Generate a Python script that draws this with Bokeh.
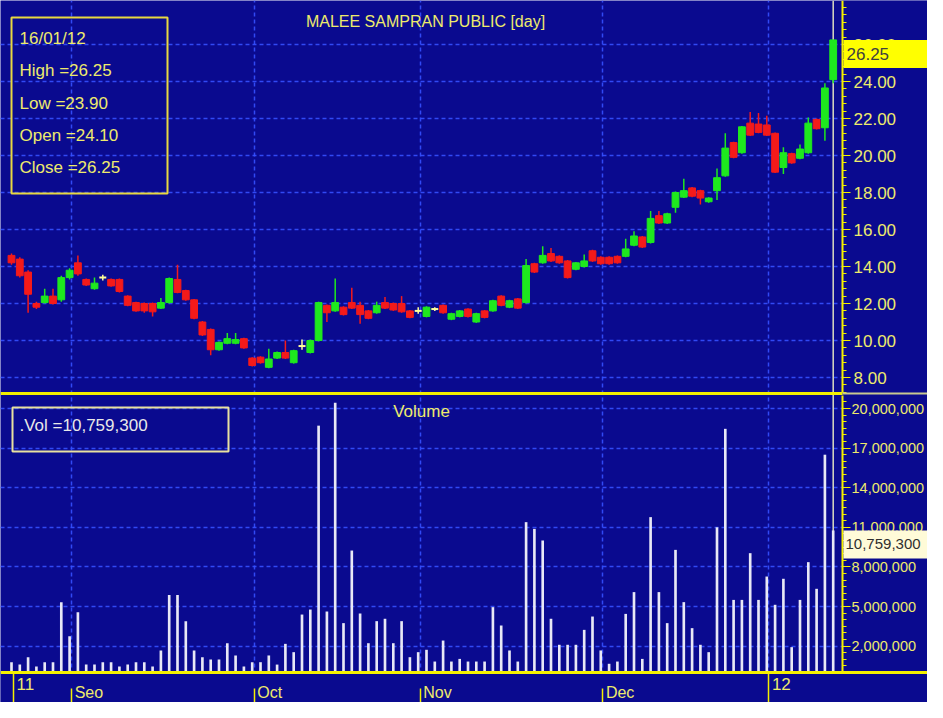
import numpy as np
from bokeh.plotting import figure
from bokeh.models import (LinearAxis, FixedTicker, Grid, Label, BoxAnnotation, Span,
                          NumeralTickFormatter, PrintfTickFormatter, Range1d, ColumnDataSource)
from bokeh.embed import file_html
from bokeh.resources import INLINE

# ---------------- data ----------------
stock_title = "MALEE SAMPRAN PUBLIC [day]"
last_date = "16/01/12"

opens = [14.6, 14.4, 13.7, 12.0, 12.05, 12.4, 12.2, 13.4, 14.2, 13.3,
         12.8, 13.4, 13.3, 13.3, 12.4, 12.05, 12.0, 12.0, 11.75, 12.05,
         13.3, 12.7, 12.2, 11.0, 10.6, 9.5, 9.85, 9.85, 10.1, 9.05,
         9.1, 8.55, 9.05, 9.35, 8.8, 9.7, 9.35, 10.0, 11.9, 11.6,
         11.8, 12.05, 11.9, 11.6, 11.5, 12.05, 12.0, 12.0, 11.6, 11.6,
         11.3, 11.7, 11.9, 11.15, 11.3, 11.7, 11.0, 11.6, 11.6, 12.4,
         11.8, 12.25, 12.05, 14.15, 14.2, 14.7, 14.55, 14.3, 13.85, 14.0,
         14.85, 14.5, 14.5, 14.55, 14.55, 15.15, 15.6, 15.3, 16.75, 16.35,
         17.2, 17.75, 18.25, 18.1, 17.5, 18.1, 18.9, 20.7, 20.15, 21.75,
         21.7, 21.65, 21.2, 19.35, 20.1, 19.85, 20.15, 21.95, 21.5, 24.10]
closes = [14.2, 13.5, 12.5, 11.8, 12.4, 12.0, 13.4, 13.8, 13.6, 13.0,
          13.1, 13.4, 12.95, 12.65, 11.9, 11.6, 11.6, 11.55, 12.05, 13.35,
          12.6, 12.2, 11.2, 10.3, 9.5, 9.9, 10.1, 10.05, 9.6, 8.65,
          8.8, 9.0, 9.35, 9.05, 9.45, 9.7, 10.0, 12.05, 11.5, 12.05,
          11.4, 11.75, 11.4, 11.2, 11.9, 11.75, 11.65, 11.55, 11.25, 11.6,
          11.8, 11.7, 11.5, 11.45, 11.6, 11.3, 11.45, 11.25, 12.15, 11.9,
          12.15, 11.75, 14.05, 13.7, 14.6, 14.3, 14.2, 13.4, 14.2, 14.3,
          14.3, 14.15, 14.15, 14.2, 14.95, 15.65, 15.05, 16.6, 16.35, 16.85,
          18.0, 18.1, 17.8, 17.7, 17.7, 18.8, 20.4, 19.9, 21.55, 21.1,
          21.25, 21.1, 19.1, 20.15, 19.6, 20.35, 21.75, 21.45, 23.65, 26.25]
highs = [14.7, 14.5, 13.8, 12.1, 12.8, 12.8, 13.5, 13.9, 14.6, 13.35,
         13.4, 13.55, 13.35, 13.35, 12.45, 12.1, 12.05, 12.05, 12.3, 13.4,
         14.1, 12.75, 12.25, 11.05, 10.65, 9.95, 10.4, 10.4, 10.15, 9.1,
         9.15, 9.55, 9.4, 10.0, 9.5, 10.05, 10.05, 12.1, 11.95, 13.35,
         11.85, 12.85, 12.1, 11.65, 12.1, 12.35, 12.05, 12.4, 11.65, 11.8,
         11.85, 11.8, 11.95, 11.5, 11.65, 11.75, 11.5, 11.65, 12.2, 12.45,
         12.2, 12.3, 14.4, 14.2, 15.1, 15.0, 14.6, 14.35, 14.25, 14.65,
         14.9, 14.55, 14.55, 14.6, 15.5, 15.9, 15.65, 17.0, 17.0, 16.9,
         18.05, 18.75, 18.3, 18.15, 17.75, 19.3, 21.2, 20.75, 21.6, 22.35,
         22.3, 22.15, 21.25, 20.45, 20.15, 20.6, 22.05, 22.0, 23.9, 26.25]
lows = [14.1, 13.4, 11.5, 11.7, 12.0, 11.95, 12.1, 13.3, 13.5, 12.95,
        12.75, 13.25, 12.9, 12.6, 11.85, 11.55, 11.5, 11.3, 11.7, 12.0,
        12.55, 12.15, 11.15, 10.25, 9.2, 9.45, 9.8, 9.8, 9.55, 8.6,
        8.75, 8.5, 9.0, 9.0, 8.75, 9.5, 9.3, 9.95, 11.0, 11.55,
        11.35, 11.7, 10.9, 11.15, 11.45, 11.7, 11.6, 11.5, 11.2, 11.45,
        11.25, 11.6, 11.45, 11.1, 11.25, 11.25, 10.95, 11.2, 11.55, 11.85,
        11.75, 11.7, 12.0, 13.65, 14.15, 14.25, 14.15, 13.35, 13.8, 13.95,
        14.25, 14.1, 14.1, 14.15, 14.5, 15.1, 15.0, 15.25, 16.3, 16.3,
        16.9, 17.7, 17.75, 17.35, 17.45, 17.6, 18.85, 19.85, 20.1, 21.05,
        21.2, 21.05, 19.05, 19.0, 19.55, 19.8, 20.1, 21.4, 20.8, 23.90]
volumes = [780000, 600000, 1160000, 450000, 780000, 780000, 5330000, 2750000, 4570000, 600000,
           600000, 780000, 780000, 450000, 600000, 780000, 780000, 450000, 1670000, 5880000,
           5880000, 3890000, 1670000, 1160000, 980000, 980000, 2220000, 1290000, 450000, 780000,
           780000, 1290000, 600000, 2170000, 1540000, 4390000, 4770000, 18700000, 4620000, 20430000,
           3740000, 9240000, 4470000, 2220000, 3890000, 4070000, 2220000, 3890000, 1160000, 1540000,
           1720000, 830000, 2420000, 830000, 1030000, 830000, 830000, 830000, 4950000, 3560000,
           1670000, 830000, 11390000, 10880000, 10000000, 4070000, 2100000, 2100000, 2100000, 3230000,
           4240000, 1670000, 660000, 830000, 4440000, 6090000, 1030000, 11770000, 6090000, 3740000,
           9290000, 5330000, 3360000, 2100000, 1540000, 11000000, 18460000, 5500000, 5500000, 9040000,
           5500000, 7270000, 5130000, 7100000, 1920000, 5500000, 8360000, 6340000, 16500000, 10759300]

month_labels = ["Seo", "Oct", "Nov", "Dec"]
month_start = [7, 29, 49, 71]
year_labels = ["11", "12"]
year_start = [0, 91]
price_ticks = [8, 10, 12, 14, 16, 18, 20, 22, 24, 26]
volume_ticks = [2000000, 5000000, 8000000, 11000000, 14000000, 17000000, 20000000]

# ---------------- style / geometry ----------------
BG = "#0a0a8f"
YEL = "#f4f000"
LBL = "#eeea6c"
GRID = "#3550ff"
GREEN = "#1ee81e"
RED = "#f41a1a"
DOJI = "#ffff9a"
VOLC = "#e8e8f6"
FONT = "Liberation Sans"
FS = "17px"

W, H = 927, 702
PX_PER_BAR = 8.3
X_LO = -11 / PX_PER_BAR
X_HI = X_LO + W / PX_PER_BAR
X_AXIS = (842 - 11) / PX_PER_BAR          # x of the right axis line
PX_PER_PRICE = 18.5
P_HI = 8 + 377 / PX_PER_PRICE
P_LO = P_HI - H / PX_PER_PRICE
P_AXIS_LO = 8 - (392 - 377) / PX_PER_PRICE
PX_PER_VOL = 13.2e-6
V_HI = 672 / PX_PER_VOL
V_LO = V_HI - H / PX_PER_VOL
V_AXIS_HI = (672 - 395) / PX_PER_VOL
TICK_SHIFT = 0.25

n = len(closes)
xs = list(range(n))
colors = [GREEN if c > o else (RED if c < o else DOJI) for o, c in zip(opens, closes)]
body_i = [i for i in xs if opens[i] != closes[i]]
doji_i = [i for i in xs if opens[i] == closes[i]]

src_all = ColumnDataSource(dict(x=xs, high=highs, low=lows, color=colors, vol=volumes))
src_body = ColumnDataSource(dict(
    x=body_i,
    top=[max(opens[i], closes[i]) for i in body_i],
    bottom=[min(opens[i], closes[i]) for i in body_i],
    color=[colors[i] for i in body_i]))
src_doji = ColumnDataSource(dict(
    x0=[i - 0.42 for i in doji_i], x1=[i + 0.42 for i in doji_i],
    y=[closes[i] for i in doji_i]))

month_pos = [m + TICK_SHIFT for m in month_start]
year_pos = [y + TICK_SHIFT for y in year_start]
grid_pos = month_pos + [year_pos[1]]

p = figure(width=W, height=H, x_range=Range1d(X_LO, X_HI), y_range=Range1d(P_LO, P_HI),
           x_axis_location=None, y_axis_location=None,
           toolbar_location=None, output_backend="svg", min_border=0,
           background_fill_color=BG, border_fill_color=BG, outline_line_color=None)
p.extra_y_ranges = {"vol": Range1d(V_LO, V_HI)}
p.xgrid.visible = False
p.ygrid.visible = False


def txt(text, x, y, color=LBL, align="left", baseline="middle", x_units="screen",
        y_units="screen", size=FS, **kw):
    lab = Label(x=x, y=y, x_units=x_units, y_units=y_units, text=text,
                text_color=color, text_font=FONT, text_font_size=size,
                text_align=align, text_baseline=baseline, **kw)
    p.add_layout(lab)
    return lab


def right_axis(ticker, fmt, bounds, size, standoff, **kw):
    ax = LinearAxis(fixed_location=X_AXIS, bounds=bounds, ticker=ticker, formatter=fmt,
                    axis_line_color=YEL, axis_line_width=2,
                    major_tick_line_color=YEL, major_tick_out=8, major_tick_in=0,
                    minor_tick_line_color=YEL, minor_tick_out=4, minor_tick_in=0,
                    major_label_text_color=LBL, major_label_text_font=FONT,
                    major_label_text_font_size=size, major_label_standoff=standoff, **kw)
    p.add_layout(ax, "right")
    return ax


# ---------------- grids ----------------
grid_kw = dict(grid_line_color=GRID, grid_line_dash="4 3", grid_line_width=1.5, grid_line_alpha=0.9)
p.add_layout(Grid(dimension=1, ticker=FixedTicker(ticks=price_ticks), **grid_kw))
p.add_layout(Grid(dimension=1, y_range_name="vol", ticker=FixedTicker(ticks=volume_ticks), **grid_kw))
p.add_layout(Grid(dimension=0, ticker=FixedTicker(ticks=grid_pos), **grid_kw))

# cursor line at the last bar
p.add_layout(Span(location=xs[-1], dimension="height", line_color="#dcdcc0", line_width=1.5,
                  level="underlay"))

# cover the axis areas (right and bottom) over the grid lines
p.add_layout(BoxAnnotation(left=X_AXIS, right=X_HI, bottom=P_LO, top=P_HI, fill_color=BG,
                           fill_alpha=1, line_color=None, level="underlay"))
p.add_layout(BoxAnnotation(left=X_LO, right=X_HI, bottom=V_LO, top=0, y_range_name="vol",
                           fill_color=BG, fill_alpha=1, line_color=None, level="underlay"))

# ---------------- candles ----------------
p.segment(x0="x", y0="low", x1="x", y1="high", line_color="color", line_width=1.5, source=src_all)
p.vbar(x="x", top="top", bottom="bottom", width=0.82, fill_color="color", line_color="color",
       source=src_body)
p.segment(x0="x0", y0="y", x1="x1", y1="y", line_color=DOJI, line_width=2, source=src_doji)

# ---------------- volume ----------------
p.vbar(x="x", top="vol", bottom=0, width=0.32, fill_color=VOLC, line_color=None,
       source=src_all, y_range_name="vol")

# ---------------- axes ----------------
right_axis(FixedTicker(ticks=price_ticks, minor_ticks=list(np.arange(7.2, 28.4, 0.4))),
           PrintfTickFormatter(format="%.2f"), (P_AXIS_LO, P_HI), FS, 3)
right_axis(FixedTicker(ticks=volume_ticks, minor_ticks=list(np.arange(500000, 20600000, 500000))),
           NumeralTickFormatter(format="0,0"), (0, V_AXIS_HI), "14.5px", 1, y_range_name="vol")

p.add_layout(LinearAxis(y_range_name="vol", fixed_location=0, ticker=FixedTicker(ticks=year_pos),
                        axis_line_color=YEL, axis_line_width=3,
                        major_tick_line_color=YEL, major_tick_line_width=1.5,
                        major_tick_out=32, major_tick_in=0, minor_tick_line_color=None,
                        major_label_text_color=None, major_label_text_alpha=0), "below")
p.add_layout(LinearAxis(y_range_name="vol", fixed_location=0, ticker=FixedTicker(ticks=month_pos),
                        axis_line_color=None,
                        major_tick_line_color=YEL, major_tick_line_width=1.5,
                        major_tick_out=32, major_tick_in=-16, minor_tick_line_color=None,
                        major_label_text_color=None, major_label_text_alpha=0), "below")

# separator between the two panels
p.add_layout(BoxAnnotation(left=X_LO, right=X_AXIS, top=310.5, bottom=307.5,
                           top_units="screen", bottom_units="screen",
                           fill_color=YEL, fill_alpha=1, line_color=None))
p.add_layout(BoxAnnotation(left=X_AXIS, right=X_HI, top=310, bottom=308,
                           top_units="screen", bottom_units="screen",
                           fill_color="#c8c890", fill_alpha=1, line_color=None))

# ---------------- texts ----------------
txt(stock_title, 425, 681, align="center", size="16px")
p.add_layout(BoxAnnotation(left=11, right=167, top=685, bottom=509,
                           left_units="screen", right_units="screen",
                           top_units="screen", bottom_units="screen",
                           fill_alpha=0, line_color="#e8d840", line_alpha=1, line_width=2))
info = [last_date,
        f"High  ={highs[-1]:.2f}",
        f"Low  ={lows[-1]:.2f}",
        f"Open  ={opens[-1]:.2f}",
        f"Close  ={closes[-1]:.2f}"]
for k, s in enumerate(info):
    txt(s, 19, 664 - 32.3 * k)

txt("Volume", 421, 291, align="center")
p.add_layout(BoxAnnotation(left=12, right=228, top=295, bottom=251,
                           left_units="screen", right_units="screen",
                           top_units="screen", bottom_units="screen",
                           fill_alpha=0, line_color="#e8e0a0", line_alpha=1, line_width=2))
txt(f".Vol  ={volumes[-1]:,}", 19, 277, color="#e8e8e8")

p.add_layout(Label(x=X_AXIS, y=closes[-1], x_units="data", y_units="data", x_offset=1,
                   text=f"{closes[-1]:.2f}", text_color="#404040", text_font=FONT,
                   text_font_size=FS, text_align="left", text_baseline="top",
                   background_fill_color="#ffff00",
                   padding=dict(left=3, right=40, top=8, bottom=8)))
p.add_layout(Label(x=X_AXIS, y=volumes[-1], x_units="data", y_units="data", x_offset=1,
                   y_range_name="vol",
                   text=f"{volumes[-1]:,}", text_color="#303030", text_font=FONT,
                   text_font_size="15px", text_align="left", text_baseline="top",
                   background_fill_color="#fffbd8",
                   padding=dict(left=2, right=10, top=9, bottom=9)))

for lab, pos in zip(year_labels, year_pos):
    txt(lab, pos, 19, x_units="data", x_offset=3)
for lab, pos in zip(month_labels, month_pos):
    txt(lab, pos, 2, x_units="data", x_offset=3, baseline="bottom", size="16px")

open("out.html", "w").write(file_html(p, INLINE))
